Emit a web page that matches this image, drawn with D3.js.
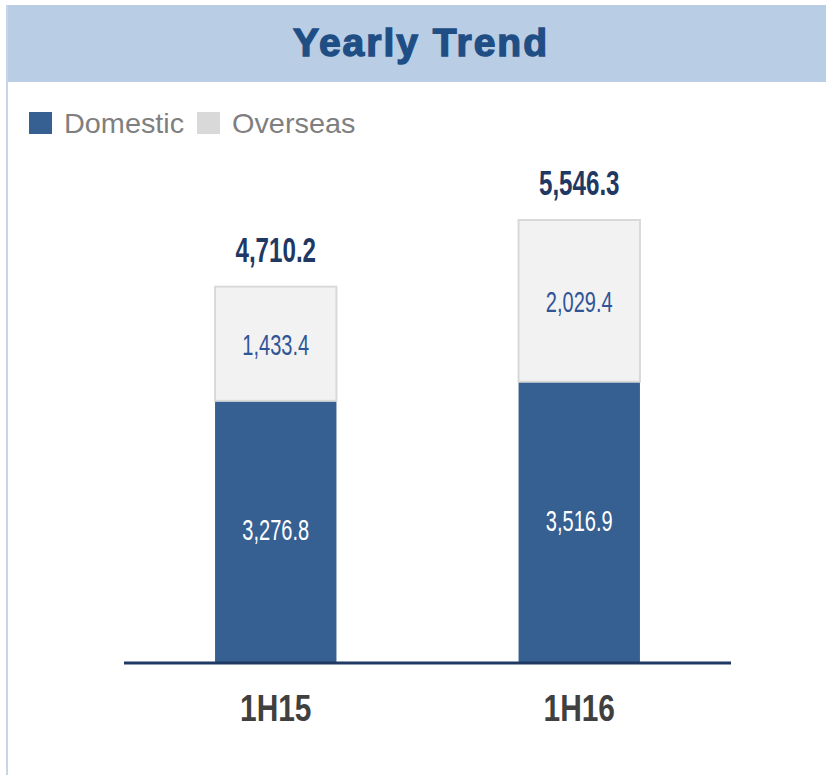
<!DOCTYPE html>
<html>
<head>
<meta charset="utf-8">
<script src="https://cdn.jsdelivr.net/npm/d3@7"></script>
<style>
  html, body { margin: 0; padding: 0; background: #fff; }
  svg { display: block; }
</style>
</head>
<body>
<svg id="chart" width="826" height="775"></svg>
<script>
//Data
var categories = ["1H15", "1H16"];
var domestic = [3276.8, 3516.9];
var overseas = [1433.4, 2029.4];
var totals = [4710.2, 5546.3];
var seriesNames = ["Domestic", "Overseas"];

//Colours
var blue = "#376092";
var grey = "#F2F2F2";
var navy = "#1F3864";
var sans = "'Liberation Sans', Arial, sans-serif";

var svg = d3.select("#chart");

//squeeze text horizontally (the original uses a narrow font)
function condense(sel, ratio){
  sel.each(function(){
    var w = this.getComputedTextLength();
    d3.select(this).attr("textLength", w*ratio).attr("lengthAdjust", "spacingAndGlyphs");
  });
}

//Header band + panel border
svg.append("rect").attr("x", 6).attr("y", 5).attr("width", 820).attr("height", 77).attr("fill", "#B9CDE5");
svg.append("line").attr("x1", 7).attr("x2", 7).attr("y1", 5).attr("y2", 775)
  .attr("stroke", "#C6D6EA").attr("stroke-width", 2);
svg.append("text").attr("x", 421).attr("y", 56).attr("text-anchor", "middle")
  .attr("font-family", sans).attr("font-weight", "bold")
  .attr("font-size", 39).attr("letter-spacing", 2)
  .attr("fill", "#1F4E85").attr("stroke", "#1F4E85").attr("stroke-width", 1.4)
  .text("Yearly Trend");

//Legend
var legendX = [29, 197];
var legendColors = [blue, "#D9D9D9"];
seriesNames.forEach(function(name, i){
  svg.append("rect").attr("x", legendX[i]).attr("y", 112).attr("width", 23).attr("height", 22)
    .attr("fill", legendColors[i]);
  svg.append("text").attr("x", legendX[i] + 35).attr("y", 133)
    .attr("font-family", sans).attr("font-size", 28)
    .attr("fill", "#7F7F7F").text(name)
    .call(condense, 1.03);
});

//Scales
var x = d3.scaleBand().domain(categories).range([124, 731]).paddingInner(0.6).paddingOuter(0.3);
var y = d3.scaleLinear().domain([0, 5546.3]).range([662, 220]);

var g = svg.append("g");
var bars = g.selectAll("g.bar").data(categories).enter().append("g").attr("class", "bar");

//Domestic segment
bars.append("rect")
  .attr("x", function(d){ return x(d); })
  .attr("width", x.bandwidth())
  .attr("y", function(d, i){ return y(domestic[i]); })
  .attr("height", function(d, i){ return y(0) - y(domestic[i]); })
  .attr("fill", blue);

//Overseas segment
bars.append("rect")
  .attr("x", function(d){ return x(d); })
  .attr("width", x.bandwidth())
  .attr("y", function(d, i){ return y(totals[i]); })
  .attr("height", function(d, i){ return y(domestic[i]) - y(totals[i]); })
  .attr("fill", grey).attr("stroke", "#D9D9D9").attr("stroke-width", 2);

var fmt = d3.format(",.1f");

//Segment labels
bars.append("text")
  .attr("x", function(d){ return x(d) + x.bandwidth()/2; })
  .attr("y", function(d, i){ return (y(0) + y(domestic[i]))/2 + 9; })
  .attr("text-anchor", "middle").attr("font-family", sans).attr("font-size", 29)
  .attr("fill", "#fff")
  .text(function(d, i){ return fmt(domestic[i]); })
  .call(condense, 0.69);

bars.append("text")
  .attr("x", function(d){ return x(d) + x.bandwidth()/2; })
  .attr("y", function(d, i){ return (y(domestic[i]) + y(totals[i]))/2 + 11; })
  .attr("text-anchor", "middle").attr("font-family", sans).attr("font-size", 29)
  .attr("fill", "#2F5597")
  .text(function(d, i){ return fmt(overseas[i]); })
  .call(condense, 0.69);

//Totals
bars.append("text")
  .attr("x", function(d){ return x(d) + x.bandwidth()/2; })
  .attr("y", function(d, i){ return y(totals[i]) - 25; })
  .attr("text-anchor", "middle").attr("font-family", sans).attr("font-weight", "bold")
  .attr("font-size", 35).attr("fill", navy)
  .text(function(d, i){ return fmt(totals[i]); })
  .call(condense, 0.69);

//Baseline
g.append("line").attr("x1", 124).attr("x2", 731).attr("y1", y(0) + 1).attr("y2", y(0) + 1)
  .attr("stroke", navy).attr("stroke-width", 3);

//Category axis
var xAxis = g.append("g").attr("transform", "translate(0," + (y(0) + 59) + ")")
  .call(d3.axisBottom(x).tickSize(0).tickPadding(0));
xAxis.select(".domain").remove();
xAxis.selectAll("text").attr("font-family", sans).attr("font-weight", "bold")
  .attr("font-size", 36).attr("fill", "#404040").attr("dy", 0)
  .call(condense, 0.83);
</script>
</body>
</html>
